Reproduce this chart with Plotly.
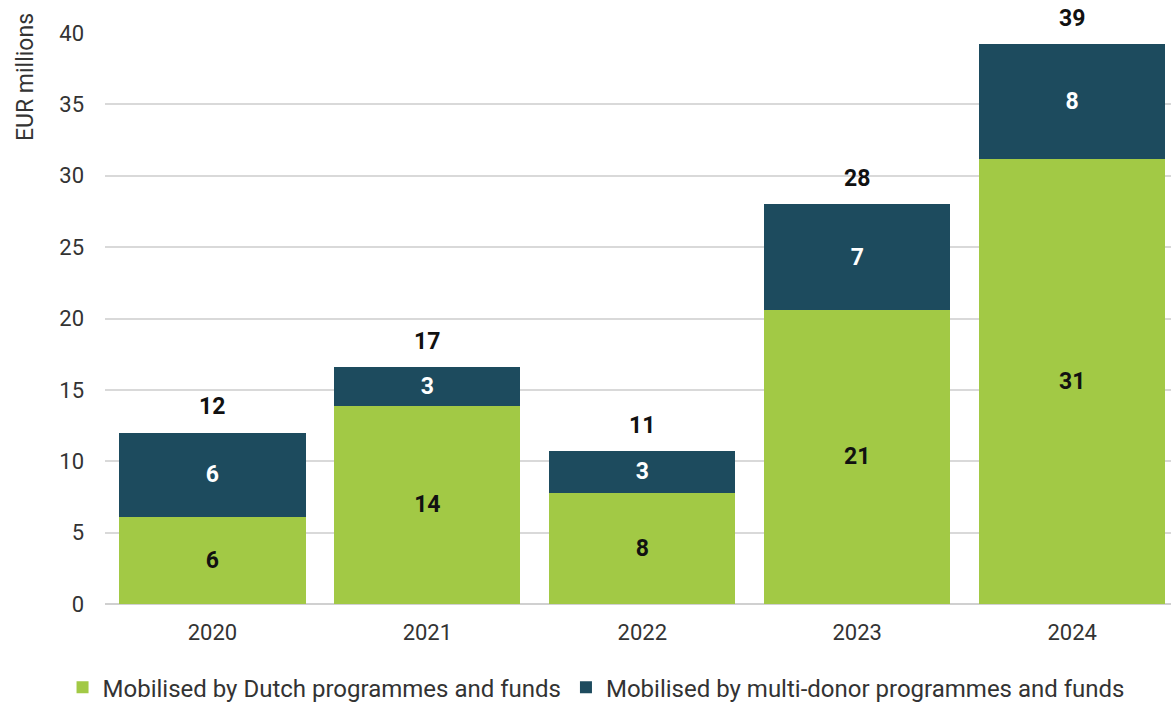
import plotly.graph_objects as go

years = ["2020", "2021", "2022", "2023", "2024"]
dutch = [6.1, 13.9, 7.8, 20.6, 31.2]
multi = [5.9, 2.7, 2.9, 7.4, 8.0]
totals = [round(a + b, 1) for a, b in zip(dutch, multi)]

def lab(v):
    return str(int(v + 0.5))

GREEN = "#A2C945"
BLUE = "#1D4B5E"
FONT = "Roboto"
TXT = "#333333"

fig = go.Figure()
fig.add_trace(go.Bar(
    x=years, y=dutch, name="Mobilised by Dutch programmes and funds",
    marker=dict(color=GREEN, line=dict(width=0)),
    text=[lab(v) for v in dutch], textposition="inside", insidetextanchor="middle",
    textfont=dict(family=FONT, size=23, color="#111111", weight="bold"),
    textangle=0,
))
fig.add_trace(go.Bar(
    x=years, y=multi, name="Mobilised by multi-donor programmes and funds",
    marker=dict(color=BLUE, line=dict(width=0)),
    text=[lab(v) for v in multi], textposition="inside", insidetextanchor="middle",
    textfont=dict(family=FONT, size=23, color="white", weight="bold"),
    textangle=0,
))

for i, t in enumerate(totals):
    fig.add_annotation(x=i, y=t, text=lab(t), showarrow=False, yanchor="middle",
                       yshift=26, font=dict(family=FONT, size=23, color="#111111", weight="bold"))

fig.add_annotation(xref="paper", yref="paper", x=-0.075, y=1.0, xanchor="center", yanchor="top",
                   yshift=22, text="EUR millions", textangle=-90, showarrow=False,
                   font=dict(family=FONT, size=23, color=TXT))

fig.update_layout(
    barmode="stack", bargap=0.134,
    width=1171, height=706,
    margin=dict(l=105, r=0, t=33, b=102),
    plot_bgcolor="white", paper_bgcolor="white",
    font=dict(family=FONT, size=22, color=TXT),
    showlegend=True,
    legend=dict(orientation="h", xref="container", yref="container", x=0.509, y=0.026,
                xanchor="center", yanchor="middle", font=dict(family=FONT, size=24, color=TXT),
                traceorder="normal", itemclick=False, tracegroupgap=0),
    xaxis=dict(type="category", range=[-0.5, 4.46], showgrid=False, showline=False, ticks="",
               ticklabelstandoff=13,
               tickfont=dict(family=FONT, size=22, color=TXT)),
    yaxis=dict(range=[0, 40], dtick=5, showgrid=True, gridcolor="#D9D9D9", gridwidth=1.5,
               zeroline=True, zerolinecolor="#D0D0D0", zerolinewidth=2, ticks="",
               ticklabelstandoff=20,
               tickfont=dict(family=FONT, size=22, color=TXT)),
)

fig.write_html("out.html", config={"displayModeBar": False},
               post_script="document.body.style.margin='0';document.body.style.padding='0';")
